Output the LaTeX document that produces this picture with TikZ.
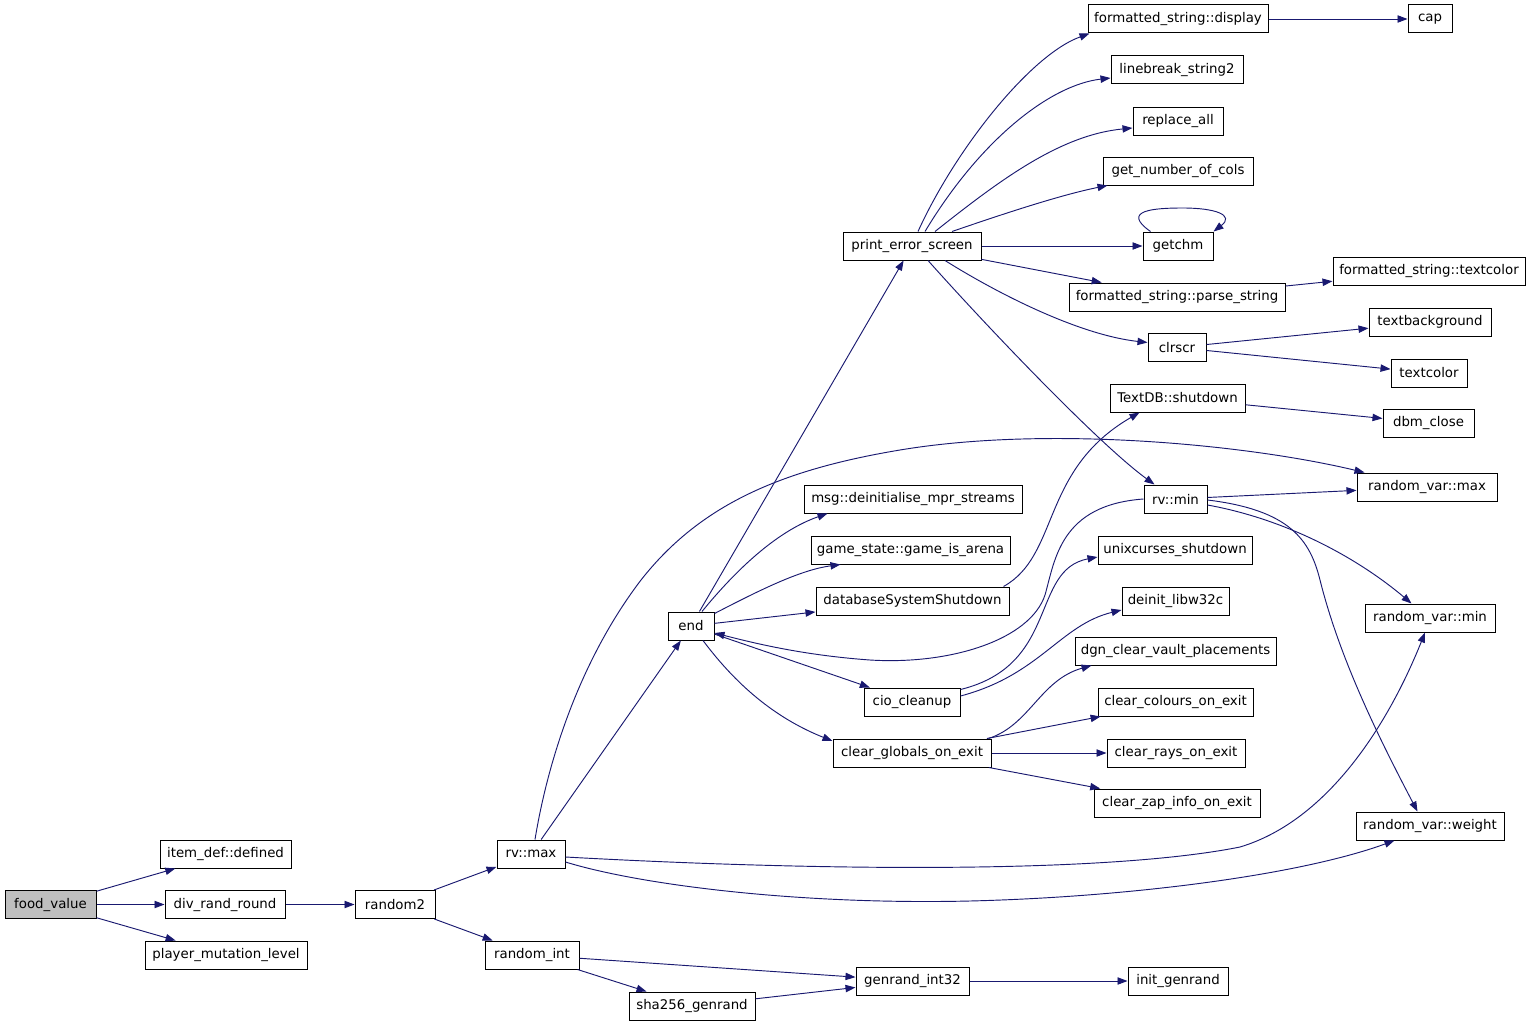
\documentclass[tikz,border=0pt]{standalone}
\usepackage{fontspec}
\setmainfont{DejaVu Sans}
\usetikzlibrary{arrows.meta, calc}
\definecolor{edgeblue}{HTML}{191970}
\definecolor{rootgray}{HTML}{BFBFBF}

\begin{document}
\begin{tikzpicture}[x=0.75pt, y=-0.75pt,
  fn/.style={draw=black, line width=0.75pt, fill=white, inner sep=0pt,
    minimum height=21pt, minimum width=#1*0.75pt,
    font=\fontsize{10}{12}\selectfont},
  call/.style={draw=edgeblue, line width=0.7pt,
    -{Triangle[length=7.5pt,width=5.5pt]}}]
\useasboundingbox[fill=white] (0,0) rectangle (1531,1024);

% left part
\node[fn=91, fill=rootgray] (food) at (50.5,904.5) {food\_value};
\node[fn=131] (itemdef) at (225.5,854) {item\_def::defined};
\node[fn=120] (divrand) at (225,904.5) {div\_rand\_round};
\node[fn=162] (pml) at (226,955) {player\_mutation\_level};
\node[fn=80] (random2) at (395,904.5) {random2};
\node[fn=68] (rvmax) at (531,854) {rv::max};
\node[fn=94] (randint) at (532,955) {random\_int};
\node[fn=126] (sha) at (692,1006) {sha256\_genrand};
\node[fn=113] (genrand) at (912.5,981) {genrand\_int32};
\node[fn=100] (initgen) at (1178,981) {init\_genrand};

% middle column
\node[fn=46] (endfn) at (691,626) {end};
\node[fn=138] (pes) at (912,246) {print\_error\_screen};
\node[fn=218] (msgdeinit) at (913,499) {msg::deinitialise\_mpr\_streams};
\node[fn=199] (gamearena) at (910.5,550) {game\_state::game\_is\_arena};
\node[fn=193] (dbshut) at (912.5,601) {databaseSystemShutdown};
\node[fn=96] (cio) at (912,702) {cio\_cleanup};
\node[fn=158] (clearglob) at (912,753) {clear\_globals\_on\_exit};

% right columns
\node[fn=180] (fsdisplay) at (1178,19) {formatted\_string::display};
\node[fn=44] (cap) at (1430,19) {cap};
\node[fn=132] (linebreak) at (1177,70) {linebreak\_string2};
\node[fn=90] (replaceall) at (1178,121) {replace\_all};
\node[fn=150] (numcols) at (1178,171) {get\_number\_of\_cols};
\node[fn=70] (getchm) at (1178,246) {getchm};
\node[fn=216] (parsestr) at (1177,297) {formatted\_string::parse\_string};
\node[fn=192] (fstextcolor) at (1429,271.5) {formatted\_string::textcolor};
\node[fn=58] (clrscr) at (1177,347.5) {clrscr};
\node[fn=122] (textbg) at (1430,322) {textbackground};
\node[fn=76] (textcolor) at (1429,373) {textcolor};
\node[fn=135] (textdb) at (1177.5,398) {TextDB::shutdown};
\node[fn=91] (dbmclose) at (1428.5,423) {dbm\_close};
\node[fn=63] (rvmin) at (1175.5,499) {rv::min};
\node[fn=140] (rvarmax) at (1427,487) {random\_var::max};
\node[fn=154] (unixcurses) at (1175,550) {unixcurses\_shutdown};
\node[fn=107] (deinitw32) at (1175.5,601) {deinit\_libw32c};
\node[fn=201] (dgnclear) at (1175.5,651) {dgn\_clear\_vault\_placements};
\node[fn=155] (clearcol) at (1175.5,702) {clear\_colours\_on\_exit};
\node[fn=138] (clearrays) at (1176,753) {clear\_rays\_on\_exit};
\node[fn=166] (clearzap) at (1177,803) {clear\_zap\_info\_on\_exit};
\node[fn=130] (rvarmin) at (1430,618) {random\_var::min};
\node[fn=148] (rvarweight) at (1430,826) {random\_var::weight};

% straight calls
\draw[call] (food) -- (itemdef);
\draw[call] (food) -- (divrand);
\draw[call] (food) -- (pml);
\draw[call] (divrand) -- (random2);
\draw[call] (random2) -- (rvmax);
\draw[call] (random2) -- (randint);
\draw[call] (randint) -- (genrand);
\draw[call] (randint) -- (sha);
\draw[call] (sha) -- (genrand);
\draw[call] (genrand) -- (initgen);
\draw[call] (rvmax) -- (endfn);
\draw[call] (endfn) -- (pes);
\draw[call] (endfn) -- (dbshut);
\draw[call] (endfn) -- (cio);
\draw[call] (pes) -- (getchm);
\draw[call] (pes) -- (parsestr);
\draw[call] (fsdisplay) -- (cap);
\draw[call] (parsestr) -- (fstextcolor);
\draw[call] (clrscr) -- (textbg);
\draw[call] (clrscr) -- (textcolor);
\draw[call] (textdb) -- (dbmclose);
\draw[call] (rvmin) -- (rvarmax);
\draw[call] (clearglob) -- (clearcol);
\draw[call] (clearglob) -- (clearrays);
\draw[call] (clearglob) -- (clearzap);

% curved calls
\draw[call] ($(pes.north)+(6,0)$) .. controls (955,150) and (1030,55) .. ($(fsdisplay.south west)+(2,0)$);
\draw[call] ($(pes.north)+(13,0)$) .. controls (980,140) and (1050,85) .. ($(linebreak.west)+(0,8)$);
\draw[call] ($(pes.north)+(23,0)$) .. controls (1000,180) and (1060,135) .. ($(replaceall.west)+(0,7)$);
\draw[call] ($(pes.north)+(40,0)$) .. controls (1000,215) and (1060,195) .. ($(numcols.south west)+(5,0)$);
\draw[call] ($(pes.south)+(33,0)$) .. controls (1000,295) and (1080,335) .. ($(clrscr.west)+(0,-5)$);
\draw[call] ($(pes.south)+(16,0)$) .. controls (990,330) and (1100,445) .. ($(rvmin.north west)+(11,0)$);
\draw[call] ($(getchm.north west)+(8,0)$) .. controls (1120,210) and (1155,208) .. (1183,208)
  .. controls (1215,208) and (1235,215) .. (getchm.north east);
\draw[call] ($(dbshut.north east)+(-6,0)$) .. controls (1060,555) and (1040,470) .. ($(textdb.south west)+(30,0)$);
\draw[call] ($(rvmin.east)+(0,6)$) .. controls (1290,520) and (1360,560) .. ($(rvarmin.north west)+(47,0)$);
\draw[call] ($(rvmin.east)+(0,1)$) .. controls (1290,510) and (1310,540) .. (1320,580)
  .. controls (1340,660) and (1380,740) .. ($(rvarweight.north west)+(62,0)$);
\draw[call] ($(rvmax.north)+(4,0)$) .. controls (548,760) and (580,660) .. (641,580)
  .. controls (700,505) and (780,470) .. (900,450)
  .. controls (1050,425) and (1250,445) .. ($(rvarmax.north west)+(8,0)$);
\draw[call] ($(rvmax.east)+(0,3)$) .. controls (800,870) and (1100,875) .. (1240,847)
  .. controls (1330,820) and (1390,720) .. ($(rvarmin.south)+(-5,0)$);
\draw[call] ($(rvmax.east)+(0,8)$) .. controls (640,885) and (800,905) .. (970,901)
  .. controls (1130,897) and (1300,875) .. ($(rvarweight.south west)+(39,0)$);
\draw[call] ($(endfn.north)+(11,0)$) .. controls (740,565) and (780,530) .. ($(msgdeinit.south west)+(24,0)$);
\draw[call] ($(endfn.north east)+(0,2)$) .. controls (760,590) and (800,570) .. ($(gamearena.south west)+(30,0)$);
\draw[call] ($(endfn.south)+(12,0)$) .. controls (740,690) and (780,720) .. ($(clearglob.west)+(0,-12)$);
\draw[call] (rvmin.west) .. controls (1060,505) and (1055,560) .. (1045,595)
  .. controls (1030,640) and (950,665) .. (870,660)
  .. controls (800,655) and (750,642) .. ($(endfn.east)+(0,7)$);
\draw[call] ($(cio.north east)+(0,2)$) .. controls (1060,665) and (1030,570) .. ($(unixcurses.west)+(0,7)$);
\draw[call] ($(cio.east)+(0,-6)$) .. controls (1040,675) and (1060,625) .. ($(deinitw32.west)+(0,9)$);
\draw[call] ($(clearglob.north east)+(-3,0)$) .. controls (1030,725) and (1040,680) .. ($(dgnclear.south west)+(17,0)$);
\end{tikzpicture}
\end{document}
